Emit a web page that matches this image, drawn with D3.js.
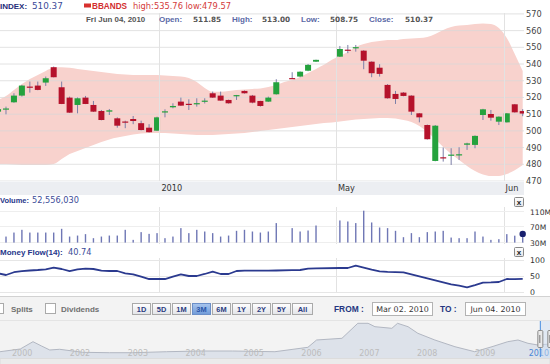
<!DOCTYPE html>
<html><head><meta charset="utf-8">
<script src="https://cdn.jsdelivr.net/npm/d3@7"></script>
<style>body{margin:0;background:#fff}svg{display:block}</style>
</head><body><svg id="c" width="550" height="364"></svg>
<script>
// ---------- DATA ----------
const dates = ["2010-03-02","2010-03-03","2010-03-04","2010-03-05","2010-03-08","2010-03-09","2010-03-10","2010-03-11","2010-03-12",
"2010-03-15","2010-03-16","2010-03-17","2010-03-18","2010-03-19","2010-03-22","2010-03-23","2010-03-24","2010-03-25","2010-03-26",
"2010-03-29","2010-03-30","2010-03-31","2010-04-01","2010-04-05","2010-04-06","2010-04-07","2010-04-08","2010-04-09",
"2010-04-12","2010-04-13","2010-04-14","2010-04-15","2010-04-16","2010-04-19","2010-04-20","2010-04-21","2010-04-22","2010-04-23",
"2010-04-26","2010-04-27","2010-04-28","2010-04-29","2010-04-30","2010-05-03","2010-05-04","2010-05-05","2010-05-06","2010-05-07",
"2010-05-10","2010-05-11","2010-05-12","2010-05-13","2010-05-14","2010-05-17","2010-05-18","2010-05-19","2010-05-20","2010-05-21",
"2010-05-24","2010-05-25","2010-05-26","2010-05-27","2010-05-28","2010-06-01","2010-06-02","2010-06-03","2010-06-04"];
const open  = [511.5,512.8,517.1,521.1,526.5,527.1,528.9,538.1,526.1,519.9,515.5,519.9,515.5,511.9,511.5,507.5,505.6,507.1,504.6,501.9,500.1,511.5,514.1,517.5,516.2,516.4,517.7,522.5,521.1,518.5,521.0,523.9,521.1,517.9,517.5,521.9,null,531.6,532.5,536.0,541.4,null,null,544.4,548.6,549.8,548.0,541.4,537.8,527.5,522.1,522.9,521.1,510.5,503.5,482.0,484.2,485.4,485.4,491.7,491.6,509.5,510.1,505.5,505.1,515.9,511.85];
const high  = [514.0,514.5,522.5,527.5,529.5,529.5,532.5,538.5,529.5,520.5,520.0,520.9,517.9,512.5,513.1,508.1,506.1,508.9,506.1,504.0,508.5,512.9,516.5,519.9,518.9,519.5,519.5,523.5,523.5,518.7,521.5,524.2,521.5,518.0,520.5,530.9,null,535.1,535.6,540.0,542.6,null,null,550.8,551.4,551.4,548.3,541.6,539.9,528.0,523.9,523.2,521.3,510.7,503.8,503.5,490.0,489.6,490.2,492.9,497.3,513.2,512.5,508.7,510.7,516.1,513.00];
const low   = [510.0,509.9,516.8,520.5,522.9,524.3,526.9,532.0,516.0,510.7,510.5,516.0,511.3,506.3,509.5,501.9,501.6,504.0,500.3,499.0,500.0,508.1,513.5,514.9,512.5,514.5,516.4,519.7,518.0,516.3,518.5,522.3,516.5,514.5,517.3,521.7,null,531.1,532.1,535.7,541.2,null,null,544.2,546.5,547.4,536.9,532.1,532.5,519.3,516.1,520.7,509.5,505.1,494.8,481.8,481.6,479.6,482.6,488.6,489.6,506.5,506.1,503.5,505.0,510.9,508.75];
const close = [513.0,513.4,521.1,527.1,526.0,524.5,531.5,532.1,516.1,510.9,519.5,516.1,511.5,506.5,512.3,503.1,505.4,505.9,500.5,499.2,508.1,511.7,514.9,515.1,516.0,516.6,518.1,519.9,518.1,516.5,521.4,522.5,516.9,514.9,519.9,529.1,null,531.4,535.4,539.5,542.5,null,null,549.0,548.3,550.1,542.0,534.5,534.1,519.5,519.1,520.9,511.5,508.1,495.0,503.1,483.8,485.8,486.0,492.5,497.0,512.9,507.9,508.5,510.5,511.1,510.37];
const bbUpper = [518.5,520.9,524.5,528.1,531.1,533.5,535.9,537.7,538.0,537.7,537.1,536.5,535.9,535.3,534.7,534.1,533.8,533.5,533.5,533.5,533.5,533.2,532.9,532.6,531.7,529.3,525.7,523.4,523.4,523.9,524.5,524.8,525.1,525.4,526.3,527.5,529.3,530.5,532.3,534.7,537.1,539.5,542.5,544.9,547.2,550.2,552.0,553.2,553.8,554.4,554.4,555.0,555.3,555.6,556.2,558.0,560.4,562.2,563.1,563.4,564.0,564.3,564.0,561.6,555.6,546.0,535.76];
const bbLower = [480.2,480.2,479.9,479.6,479.6,479.6,479.6,480.2,483.2,486.2,488.0,489.8,491.6,493.4,494.9,496.0,496.9,497.8,498.4,498.7,498.7,498.7,498.4,498.1,497.8,497.5,497.5,497.5,497.8,498.1,498.4,498.7,499.3,499.9,500.5,501.1,501.7,502.3,502.9,503.5,504.1,504.7,505.0,505.6,506.2,506.8,507.1,507.4,507.7,507.7,507.4,506.5,505.3,502.9,499.3,495.1,490.4,486.2,482.6,479.0,476.0,473.9,473.0,473.0,474.2,476.5,479.57];
const volume = [48.0,45.7,56.1,63.2,56.1,56.1,56.1,56.1,65.8,45.7,48.3,52.0,41.5,45.7,48.3,48.3,63.2,37.1,57.2,52.7,54.6,41.5,45.7,67.6,54.6,63.2,58.8,54.6,45.7,48.3,60.6,63.2,58.8,56.1,58.8,80.7,null,67.6,58.8,61.4,74.4,null,null,87.5,84.9,80.7,112.9,82.3,69.2,67.6,60.6,44.1,54.6,44.1,57.2,58.8,60.6,43.1,41.5,41.5,58.8,45.7,37.1,38.9,52.0,48.0,52.55603];
const moneyFlow = [58.6,53.2,62.0,65.5,67.5,69.1,71.3,76.4,72.3,65.9,71.3,73.2,72.3,66.9,65.9,65.9,58.6,55.4,47.8,40.4,40.4,40.4,47.8,55.4,50.0,50.0,56.4,63.7,56.4,56.4,65.9,66.9,66.9,66.9,66.9,67.5,null,68.5,69.1,73.2,74.0,null,null,75.5,75.5,82.8,76.5,70.0,64.5,63.0,62.5,61.8,55.4,49.0,42.5,36.1,29.7,23.6,19.0,14.0,21.0,28.7,29.5,30.9,40.4,40.0,40.74];
const xTickLabels = ["2010","May","Jun"];
const xTickSlots  = [20.3, 42.5, 63.6];
const priceTicks = [470,480,490,500,510,520,530,540,550,560,570];
const volTicks = [30,70,110];
const volTickLabels = ["30M","70M","110M"];
const mfTicks = [0,50,100];
const rangeButtons = ["1D","5D","1M","3M","6M","1Y","2Y","5Y","All"];
const selectedRange = "3M";
const navDates = ["2000-10-30","2001-03-07","2001-05-26","2001-07-19","2001-09-09","2001-11-10","2002-04-05","2002-09-20","2003-02-14",
"2003-09-16","2004-04-12","2004-11-06","2005-07-31","2006-02-24","2006-04-20","2006-09-27","2007-01-05","2007-03-11","2007-04-23",
"2007-08-08","2007-09-13","2007-11-18","2008-01-19","2008-05-05","2008-09-09","2009-01-12","2009-05-01","2009-08-08","2009-10-12",
"2009-12-14","2010-02-14","2010-05-01","2010-06-04"];
const navValues = [215,308,558,410,274,298,195,181,181,215,239,239,215,366,616,674,1187,1187,1071,1016,1187,1071,845,616,386,215,386,558,616,503,445,479,510];
const navTickLabels = ["2000","2002","2003","2004","2005","2006","2007","2008","2009","2010"];
const navTickDates  = ["2001-01-01","2002-01-01","2003-01-01","2004-01-01","2005-01-01","2006-01-01","2007-01-01","2008-01-01","2009-01-01","2010-01-01"];

// ---------- DRAW ----------
const FN = "'DejaVu Sans', Verdana, sans-serif";
const FB = "'Liberation Sans', Arial, sans-serif";
const svg = d3.select("#c");
const parse = d3.timeParse("%Y-%m-%d");
const last = dates.length - 1;
const idx = d3.range(dates.length);

const x = d3.scaleLinear().domain([0, last]).range([-1.95, 522.7]);
const yP = d3.scaleLinear().domain([470, 570]).range([181, 13.9]);
const yV = d3.scaleLinear().domain([30, 110]).range([242.6, 211.8]);
const yM = d3.scaleLinear().domain([0, 100]).range([291.7, 260.3]);

function txt(g, px, py, s, o) {
  o = o || {};
  return g.append("text").attr("x", px).attr("y", py).text(s)
    .attr("font-family", o.bold && !o.num ? FB : FN)
    .attr("font-weight", o.bold ? "bold" : "normal")
    .attr("font-size", o.size || 8.2).attr("fill", o.fill || "#333")
    .attr("text-anchor", o.anchor || "start");
}

svg.append("rect").attr("width", 550).attr("height", 364).attr("fill", "#fff");
const defs = svg.append("defs");
defs.append("clipPath").attr("id", "pc").append("rect").attr("x", 0).attr("y", 12).attr("width", 524).attr("height", 169);
defs.append("clipPath").attr("id", "vc").append("rect").attr("x", 0).attr("y", 205).attr("width", 526).attr("height", 40);
const bg = defs.append("linearGradient").attr("id", "btn").attr("x1", 0).attr("x2", 0).attr("y1", 0).attr("y2", 1);
bg.append("stop").attr("offset", 0).attr("stop-color", "#ffffff");
bg.append("stop").attr("offset", 1).attr("stop-color", "#e2e4e8");
const bs = defs.append("linearGradient").attr("id", "btnSel").attr("x1", 0).attr("x2", 0).attr("y1", 0).attr("y2", 1);
bs.append("stop").attr("offset", 0).attr("stop-color", "#a9c6ee");
bs.append("stop").attr("offset", 1).attr("stop-color", "#6f9ad8");

// main plot
const main = svg.append("g").attr("clip-path", "url(#pc)");
const band = d3.area().x(i => x(i)).y0(i => yP(bbLower[i])).y1(i => yP(bbUpper[i])).curve(d3.curveMonotoneX);
main.append("path").attr("d", band(idx)).attr("fill", "#f8d2cd");
main.selectAll(".hg").data(priceTicks).join("line")
  .attr("x1", 0).attr("x2", 524).attr("y1", d => yP(d)).attr("y2", d => yP(d))
  .attr("stroke", "#d8d8d8").attr("stroke-opacity", 0.75).attr("stroke-width", 1);

// vertical grid lines through panels
xTickSlots.forEach(s => {
  const gx = Math.round(x(s)) + 0.5;
  [[13, 181], [207, 244], [258, 292]].forEach(([a, b]) =>
    svg.append("line").attr("x1", gx).attr("x2", gx).attr("y1", a).attr("y2", b).attr("stroke", "#e2e2e2"));
});

// candles
const cand = main.append("g");
idx.filter(i => open[i] != null).forEach(i => {
  const up = close[i] >= open[i];
  const cx = x(i);
  cand.append("line").attr("x1", cx).attr("x2", cx).attr("y1", yP(high[i])).attr("y2", yP(low[i]))
    .attr("stroke", "#7c7fa8").attr("stroke-width", 1);
  const y1 = yP(Math.max(open[i], close[i])), y2 = yP(Math.min(open[i], close[i]));
  cand.append("rect").attr("x", cx - 3).attr("width", 6)
    .attr("y", y1).attr("height", Math.max(1.2, y2 - y1))
    .attr("fill", up ? "#24a23d" : "#b5122b");
});

// price axis labels
priceTicks.forEach(v => txt(svg, 526, yP(v) + 3, v, {size: 8.2, fill: "#444"}));

// x axis strip
svg.append("rect").attr("x", 0).attr("y", 181.5).attr("width", 524).attr("height", 13.5).attr("fill", "#eceef2");
xTickLabels.forEach((l, k) => txt(svg, x(xTickSlots[k]) + 2, 191, l, {size: 8.2, fill: "#333"}));

// header
txt(svg, 0, 8.5, "INDEX:", {bold: true, size: 8, fill: "#1f2e7a"});
txt(svg, 32, 8.5, close[last].toFixed(2), {size: 8.8, fill: "#3b4b98"});
svg.append("rect").attr("x", 84).attr("y", 3.5).attr("width", 7).attr("height", 4).attr("fill", "#d8302e");
txt(svg, 92, 8.5, "BBANDS", {bold: true, size: 8.2, fill: "#d22e2e"});
txt(svg, 133, 8.5, "high:" + bbUpper[last].toFixed(2) + " low:" + bbLower[last].toFixed(2), {size: 8.3, fill: "#d43b3b"});

const ld = parse(dates[last]);
txt(svg, 86, 21.5, d3.timeFormat("%a %b %d, %Y")(ld), {bold: true, size: 7.9, fill: "#555"});
[["Open:", 159, open[last], 193], ["High:", 232, high[last], 262], ["Low:", 301, low[last], 330], ["Close:", 369, close[last], 405]]
  .forEach(([lab, lx, v, vx]) => {
    txt(svg, lx, 21.5, lab, {bold: true, size: 8, fill: "#5a69a6"});
    txt(svg, vx, 21.5, v.toFixed(2), {bold: true, num: true, size: 7.3, fill: "#555"});
  });

// close buttons
function closeBtn(by) {
  svg.append("rect").attr("x", 514.5).attr("y", by + 0.5).attr("width", 9).attr("height", 9)
    .attr("fill", "url(#btn)").attr("stroke", "#888").attr("rx", 1);
  txt(svg, 519, by + 7.8, "x", {bold: true, size: 8, fill: "#222", anchor: "middle"});
}

// volume panel
txt(svg, 0, 202.5, "Volume:", {bold: true, size: 7.5, fill: "#26368a"});
txt(svg, 32, 202.5, d3.format(",")(Math.round(volume[last] * 1e6)), {size: 8.2, fill: "#3b4b98"});
closeBtn(197);
volTicks.forEach((v, k) => {
  svg.append("line").attr("x1", 0).attr("x2", 524).attr("y1", Math.round(yV(v)) - 0.5).attr("y2", Math.round(yV(v)) - 0.5)
    .attr("stroke", "#eeeeee");
  txt(svg, 530, yV(v) + 3, volTickLabels[k], {size: 7.6, fill: "#333"});
});
const vg = svg.append("g").attr("clip-path", "url(#vc)");
idx.filter(i => volume[i] != null).forEach(i => {
  vg.append("rect").attr("x", x(i) - 0.7).attr("width", 1.4)
    .attr("y", yV(volume[i])).attr("height", yV(30) - yV(volume[i])).attr("fill", "#6f77b5");
});
svg.append("circle").attr("cx", x(last)).attr("cy", yV(volume[last])).attr("r", 3.2).attr("fill", "#18206e");

// money flow panel
txt(svg, 0, 255, "Money Flow(14):", {bold: true, size: 8, fill: "#26368a"});
txt(svg, 68, 255, moneyFlow[last].toFixed(2), {size: 8.2, fill: "#3b4b98"});
closeBtn(247);
mfTicks.forEach(v => {
  svg.append("line").attr("x1", 0).attr("x2", 524).attr("y1", Math.round(yM(v)) + 0.5).attr("y2", Math.round(yM(v)) + 0.5)
    .attr("stroke", "#e6e6e6");
  txt(svg, 530, yM(v) + 3, v, {size: 7.8, fill: "#333"});
});
const mfPts = idx.filter(i => moneyFlow[i] != null);
svg.append("path").attr("d", d3.line().x(i => x(i)).y(i => yM(moneyFlow[i]))(mfPts))
  .attr("fill", "none").attr("stroke", "#2b3a8f").attr("stroke-width", 1.8).attr("stroke-linejoin", "round");

// controls area
svg.append("rect").attr("x", 0).attr("y", 296).attr("width", 550).attr("height", 68).attr("fill", "#f3f3f3");
svg.append("line").attr("x1", 0).attr("x2", 550).attr("y1", 296.5).attr("y2", 296.5).attr("stroke", "#d2d2d2");
svg.append("rect").attr("x", -6.5).attr("y", 303.5).attr("width", 10).attr("height", 10).attr("fill", "#fff").attr("stroke", "#aaa");
txt(svg, 11, 311.5, "Splits", {bold: true, size: 8, fill: "#707070"});
svg.append("rect").attr("x", 45.5).attr("y", 303.5).attr("width", 10).attr("height", 10).attr("fill", "#fff").attr("stroke", "#aaa");
txt(svg, 61, 311.5, "Dividends", {bold: true, size: 8, fill: "#707070"});
rangeButtons.forEach((b, k) => {
  const bx = 132 + k * 20, w = b === "All" ? 20 : 18;
  const sel = b === selectedRange;
  svg.append("rect").attr("x", bx + 0.5).attr("y", 303.5).attr("width", w).attr("height", 11)
    .attr("fill", sel ? "url(#btnSel)" : "url(#btn)").attr("stroke", sel ? "#6b8fc8" : "#a9a9a9");
  txt(svg, bx + 0.5 + w / 2, 311.8, b, {bold: true, size: 7.4, fill: sel ? "#2a55a8" : "#2a3b80", anchor: "middle"});
});
txt(svg, 334, 312, "FROM :", {bold: true, size: 8.4, fill: "#253680"});
txt(svg, 440, 312, "TO :", {bold: true, size: 8.4, fill: "#253680"});
[[372, dates[0]], [465, dates[last]]].forEach(([bx, d]) => {
  svg.append("rect").attr("x", bx + 0.5).attr("y", 302.5).attr("width", 60).attr("height", 13).attr("fill", "#fff").attr("stroke", "#b3b3b3");
  txt(svg, bx + 30.5, 312.3, d3.timeFormat("%b %d. %Y")(parse(d)), {size: 7.9, fill: "#333", anchor: "middle"});
});

// navigator
svg.append("line").attr("x1", 0).attr("x2", 550).attr("y1", 320.5).attr("y2", 320.5).attr("stroke", "#e4e4e4");
const xN = d3.scaleTime().domain([parse("2001-01-01"), parse("2009-01-01")]).range([10, 473]);
const yN = d3.scaleLinear().domain([0, 1300]).range([358, 320]);
const navG = svg.append("g");
const nd = navDates.map((d, k) => [parse(d), navValues[k]]);
navG.append("path").attr("d", d3.area().x(d => xN(d[0])).y0(358).y1(d => yN(d[1])).curve(d3.curveLinear)(nd))
  .attr("fill", "#dde2ea");
navG.append("path").attr("d", d3.line().x(d => xN(d[0])).y(d => yN(d[1]))(nd))
  .attr("fill", "none").attr("stroke", "#b2b7c2").attr("stroke-width", 1);
const selA = xN(parse(dates[0])), selB = xN(parse(dates[last]));
navTickLabels.forEach((l, k) => {
  const dx = xN(parse(navTickDates[k]));
  const isLast = k === navTickLabels.length - 1;
  txt(svg, isLast ? 549 : dx + 2, 355.5, l, {size: 8, fill: dx >= selA - 12 ? "#4a86d6" : "#bcbcbc", anchor: isLast ? "end" : "start"});
});
svg.append("rect").attr("x", selA).attr("y", 321).attr("width", selB - selA).attr("height", 37).attr("fill", "#cfe0f4").attr("opacity", 0.5);
svg.append("line").attr("x1", selA).attr("x2", selA).attr("y1", 321).attr("y2", 357).attr("stroke", "#4a8fe0").attr("stroke-width", 1);
[selA, selA + 10].forEach(hx => {
  svg.append("rect").attr("x", hx - 2.5).attr("y", 330.5).attr("width", 5).attr("height", 17)
    .attr("fill", "#e9e9e9").attr("stroke", "#8a8a8a").attr("rx", 1);
  svg.append("line").attr("x1", hx - 0.5).attr("x2", hx - 0.5).attr("y1", 335).attr("y2", 343).attr("stroke", "#777");
});
svg.append("rect").attr("x", 0).attr("y", 358.5).attr("width", 550).attr("height", 6).attr("fill", "#ebebeb").attr("stroke", "#dcdcdc");
</script></body></html>
